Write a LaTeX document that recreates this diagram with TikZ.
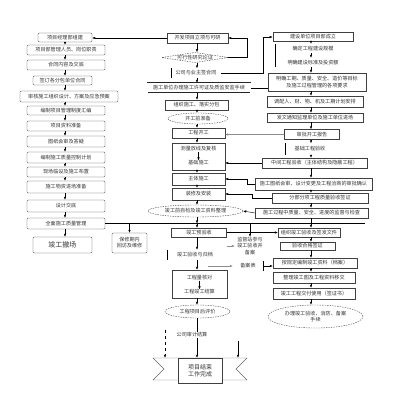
\documentclass[tikz,border=0pt]{standalone}
\usepackage{fontspec}
\setmainfont{Noto Sans CJK SC}
\usetikzlibrary{arrows.meta,shapes.geometric}

\begin{document}
\begin{tikzpicture}[x=1pt,y=-1pt,
    font=\fontsize{5.1}{6.1}\selectfont,
    every node/.append style={text=black!80},
    box/.style={draw=black!75,inner sep=0pt,align=center},
    lbox/.style={box,rounded corners=1.2pt},
    txt/.style={inner sep=0pt,align=center},
    oval/.style={draw=black!70,dash pattern=on 1.5pt off 1pt,ellipse,inner sep=0pt,align=center},
    sz/.style 2 args={minimum width=#1pt,minimum height=#2pt},
    arr/.style={-{Latex[length=3pt,width=2.4pt]}},
    faint/.style={black!45}]
    \useasboundingbox (0,0) rectangle (400,410);
    \coordinate (lx) at (65,0);
    \coordinate (cx) at (197,0);
    \coordinate (rx) at (311,0);
    % left column
    \node[lbox,sz={54}{9}] (L1) at (65,37.5) {项目经理部组建};
    \node[lbox,sz={78}{10}] (L2) at (66,50) {项目部管理人员、岗位职责};
    \node[lbox,sz={78}{10}] (L3) at (66,65) {合同内容及交底};
    \node[lbox,sz={59}{9}] (L4) at (62.5,80.5) {签订各分包单位合同};
    \node[lbox,sz={98}{11}] (L5) at (69,96.5) {审核施工组织设计、方案及应急预案};
    \node[lbox,sz={78}{9}] (L6) at (66,110.5) {编制项目管理制度汇编};
    \node[lbox,sz={78}{10}] (L7) at (66,126) {项目资料准备};
    \node[lbox,sz={78}{11}] (L8) at (66,141.5) {图纸会审及答疑};
    \node[lbox,sz={78}{11}] (L9) at (66,157.5) {编制施工质量控制计划};
    \node[lbox,sz={78}{10}] (L10) at (66,172) {现场临设及施工布置};
    \node[lbox,sz={78}{12}] (L11) at (66,187) {施工物资进场准备};
    \node[lbox,sz={78}{12}] (L12) at (66,206) {设计交底};
    \node[lbox,sz={78}{11}] (L13) at (66,223.5) {全面施工质量管理};
    \node[lbox,sz={59}{16},font=\fontsize{7}{8}\selectfont] (L14) at (62.5,245) {竣工撤场};
    \foreach \a/\b in {L1/L2,L2/L3,L3/L4,L4/L5,L5/L6,L6/L7,L7/L8,L8/L9,L9/L10,L10/L11,L11/L12,L12/L13,L13/L14}
        \draw[arr] (\a.south -| lx) -- (\b.north -| lx);
    % centre column
    \node[box,sz={61}{10}] (C1) at (197.5,38) {开发项目立项与可研};
    \node[draw=black!70,dash pattern=on 1.5pt off 1pt,diamond,aspect=6.5,inner sep=0pt] (C2) at (195,57.5) {可行性研究论证};
    \node[txt,sz={50}{9}] (C3) at (196,73) {公司与业主签合同};
    \node[box,sz={103}{10},double=white,double distance=0.7pt,draw=black!85] (C4) at (199,88) {施工单位办理施工许可证及质监安监手续};
    \node[box,sz={63}{10}] (C5) at (196.5,105) {组织施工、落实分包};
    \node[oval,sz={60}{11}] (C6) at (198,118.5) {开工前准备};
    \node[box,sz={53}{10}] (C7) at (198.5,133) {工程开工};
    \node[box,sz={53}{27}] (C8) at (198.5,156.5) {};
    \node[txt] (C8a) at (198.5,149) {测量放线及复核};
    \node[txt] (C8b) at (198.5,163) {基础施工};
    \node[box,sz={53}{12}] (C9) at (198.5,179) {主体施工};
    \node[box,sz={53}{12}] (C10) at (198.5,194) {装修及安装};
    \node[oval,sz={95}{12}] (C11) at (195.5,211) {竣工前自检及竣工资料整理};
    \draw (C3.north west) -- (C3.south west);
    \foreach \a/\b in {C1/C2,C2/C3,C3/C4,C4/C5,C5/C6,C6/C7,C7/C8,C8/C9,C9/C10,C10/C11}
        \draw[arr] (\a.south -| cx) -- (\b.north -| cx);
    \draw[arr] (C8a) -- (C8b);
    % right column
    \node[box,sz={80}{8.5},line width=0.6pt] (R1) at (313,37) {建设单位项目部成立};
    \node[txt,sz={76}{9}] (R2) at (313,48.5) {确定工程建设规模};
    \node[txt,sz={76}{9}] (R3) at (313,62.5) {明确建设标准及投资额};
    \node[box,sz={98}{18}] (R4) at (317,82) {明确工期、质量、安全、造价等目标\\及施工过程管理的各项要求};
    \node[box,sz={96}{11}] (R5) at (315,101.5) {调配人、财、物、机及工期计划安排};
    \node[box,sz={96}{9}] (R6) at (315,117.5) {发文通知监理单位及施工单位进场};
    \node[box,sz={55}{10}] (R7) at (312,134.5) {审批开工报告};
    \node[txt,sz={50}{11}] (R8) at (310,149) {基础工程验收};
    \node[box,sz={105}{10}] (R9) at (314.5,163) {中间工程验收（主体结构及隐蔽工程）};
    \node[box,sz={117}{12}] (R10) at (313.5,184) {施工图纸会审、设计变更及工程洽商的审批确认};
    \node[box,sz={96}{10}] (R11) at (320,198) {分部分项工程质量验收签证};
    \node[box,sz={113}{10}] (R12) at (311.5,213) {施工过程中质量、安全、进度的监督与检查};
    \draw (R2.north west) -- (R3.south west);
    \draw (R8.north west) -- (R8.south west);
    \foreach \a/\b in {R1/R2,R2/R3,R3/R4,R4/R5,R5/R6,R6/R7,R7/R8,R8/R9,R9/R10,R10/R11,R11/R12}
        \draw[arr] (\a.south -| rx) -- (\b.north -| rx);
    % links between the columns
    \draw[arr] (C1.west) -- (C1.west -| L1.east);
    \draw[arr] (C2.east) -- ++(19,0) |- (C1.east);
    \draw[arr] (C3.east) -- ++(42,0) |- (R1.west);
    \draw (C4.east) -- (C4.east -| R4.west);
    \draw[arr,faint] (R7.west) -- (R7.west -| C7.east);
    \draw[arr] (R9.west) -- (R9.west -| C8.east);
    \draw[arr] (R10.west) -- ++(-8,0) |- (C9.east);
    \draw[arr] (R11.west) -- ++(-20,0) |- (C10.east);
    \draw[arr] (R12.west) -- (C11.east);
    % completion bar
    \coordinate (barR) at (365,223.5);
    \draw (L13.east) -- (barR);
    \draw[arr] (C11.south -| cx) -- (cx |- barR);
    \draw (R12.south -| rx) -- (rx |- barR);
    % after completion
    \node[lbox,sz={35}{20}] (LB) at (129.5,243) {保修期内\\回访及维修};
    \node[box,sz={55}{9}] (C12) at (199,232.5) {竣工预验收};
    \node[txt,sz={30}{18}] (MB) at (250,246) {监督站参与\\竣工验收并\\备案};
    \node[txt,sz={56}{10}] (C13) at (195,255) {竣工验收与归档};
    \node[txt,sz={30}{10}] (MB2) at (248,266) {备案表};
    \node[box,sz={55}{28}] (C14box) at (199.5,284) {};
    \node[txt] (C14) at (199.5,278) {工程量核对};
    \node[txt] (C15) at (199.5,292) {工程竣工结算};
    \node[oval,sz={65}{13}] (C16) at (197.5,311.5) {工程项目后评价};
    \node[txt] (C17) at (192,335) {公司审计结算};
    \node[box,sz={62}{9}] (R13) at (309,232.5) {组织竣工验收及签发文件};
    \node[box,sz={55}{8}] (R14) at (307.5,246) {验收合格签证};
    \node[box,sz={84}{10}] (R15) at (315,263) {按规定编制竣工资料（档案）};
    \node[box,sz={82}{11}] (R16) at (314,277.5) {整理竣工图及工程资料移交};
    \node[box,sz={82}{11}] (R17) at (314,293.5) {竣工工程交付使用（签证书）};
    \node[oval,sz={95}{23}] (R18) at (315.5,316.5) {办理竣工验收、消防、备案\\手续};
    \draw (C13.north west) -- (C13.south west);
    \draw (MB2.north east) -- (MB2.south east);
    \draw[arr] (LB.north |- barR) -- (LB.north);
    \draw[arr] (cx |- barR) -- (C12.north -| cx);
    \draw[arr] (MB.north |- barR) -- (MB.north);
    \draw[arr] (rx |- barR) -- (R13.north -| rx);
    \draw[arr] (C12.east) -- (C12.east -| R13.west);
    \draw[arr,faint] (C12.east |- MB.west) -- (MB.west);
    \coordinate (bk) at (208,266);
    \draw[arr,faint] (bk) -- (MB2.west);
    \draw[arr] (MB2.east) -- (MB2.east -| R15.west);
    \foreach \a/\b in {C12/C13,C13/C14box,C14box/C16}
        \draw[arr] (\a.south -| cx) -- (\b.north -| cx);
    \draw[arr] (C14) -- (C15);
    \foreach \a/\b in {R13/R14,R14/R15,R15/R16,R16/R17,R17/R18}
        \draw[arr] (\a.south -| rx) -- (\b.north -| rx);
    % closing ribbon
    \draw[black!60] (153,358) -- (247,358) -- (236,369) -- (247,380) -- (153,380) -- (164,369) -- cycle;
    \node[box,fill=white,sz={44}{25},font=\fontsize{6}{7.5}\selectfont] (RB) at (200,370.5) {项目结束\\工作完成};
    \draw (C16.south -| cx) -- (C17.north -| cx);
    \draw[arr] (C17.south -| cx) -- (RB.north -| cx);
    \coordinate (dq) at (165,330);
    \coordinate (rq) at (238,341);
    \draw[arr,dashed] (dq) -- (dq |- RB.north);
    \draw[arr] (rq) -- (rq |- RB.north);
\end{tikzpicture}
\end{document}
